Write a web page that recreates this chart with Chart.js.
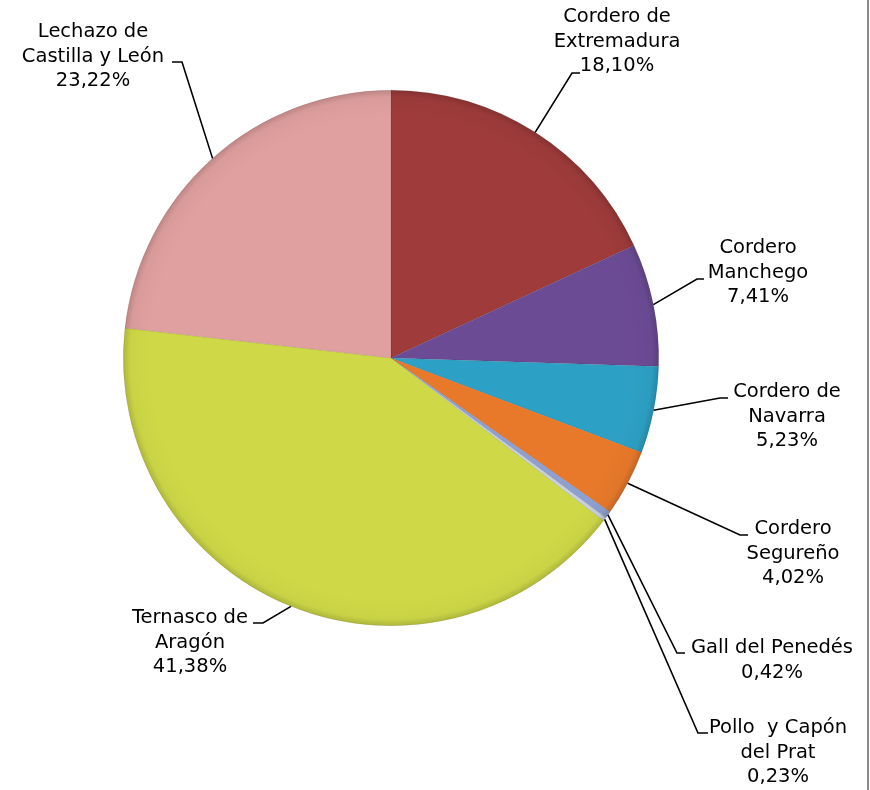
<!DOCTYPE html>
<html>
<head>
<meta charset="utf-8">
<script src="https://cdn.jsdelivr.net/npm/chart.js@4"></script>
<style>
  html, body { margin: 0; padding: 0; background: #ffffff; }
  #wrap { width: 870px; height: 790px; position: relative; }
</style>
</head>
<body>
<div id="wrap"><canvas id="c" width="870" height="790"></canvas></div>
<script>
// ---- data ----
const categories = [
  'Cordero de Extremadura', 'Cordero Manchego', 'Cordero de Navarra', 'Cordero Segureño',
  'Gall del Penedés', 'Pollo y Capón del Prat', 'Ternasco de Aragón', 'Lechazo de Castilla y León'
];
const shares = [18.10, 7.41, 5.23, 4.02, 0.42, 0.23, 41.38, 23.22];
const labelLines = [
  ['Cordero de', 'Extremadura'],
  ['Cordero', 'Manchego'],
  ['Cordero de', 'Navarra'],
  ['Cordero', 'Segureño'],
  ['Gall del Penedés'],
  ['Pollo  y Capón', 'del Prat'],
  ['Ternasco de', 'Aragón'],
  ['Lechazo de', 'Castilla y León']
];

// ---- styles / layout ----
const sliceColors = ['#9F3B3B', '#6C4B95', '#2DA1C5', '#E8792B', '#8FA0CF', '#C9CFDF', '#CFD947', '#E0A09F'];
const labelLayout = [
  { cx: 617, y: 17, elbow: [572, 73], end: [580, 73] },
  { cx: 758, y: 248, elbow: [697, 279], end: [704, 279] },
  { cx: 787, y: 392, elbow: [720, 398], end: [728, 398] },
  { cx: 793, y: 529, elbow: [740, 535], end: [748, 535] },
  { cx: 772, y: 648, elbow: [677, 653], end: [685, 653] },
  { cx: 778, y: 728, elbow: [698, 733], end: [708, 733] },
  { cx: 190, y: 618, elbow: [263, 623], end: [253, 623] },
  { cx: 93,  y: 32,  elbow: [182, 62], end: [172, 62] }
];
const LINE_H = 24.5;
const FONT = '19.5px "DejaVu Sans", Verdana, sans-serif';

const fmtPct = v => v.toFixed(2).replace('.', ',') + '%';

const labelPlugin = {
  id: 'leaderLabels',
  afterDatasetsDraw(chart) {
    const ctx = chart.ctx;
    const meta = chart.getDatasetMeta(0);
    ctx.save();
    // soft bevel shading at rim
    const a0 = meta.data[0].getProps(['x', 'y', 'outerRadius'], true);
    const g = ctx.createRadialGradient(a0.x, a0.y, a0.outerRadius * 0.9, a0.x, a0.y, a0.outerRadius);
    g.addColorStop(0, 'rgba(0,0,0,0)');
    g.addColorStop(0.75, 'rgba(0,0,0,0.03)');
    g.addColorStop(1, 'rgba(0,0,0,0.16)');
    ctx.fillStyle = g;
    ctx.beginPath();
    ctx.arc(a0.x, a0.y, a0.outerRadius, 0, Math.PI * 2);
    ctx.fill();

    meta.data.forEach((arc, i) => {
      const p = arc.getProps(['x', 'y', 'startAngle', 'endAngle', 'outerRadius'], true);
      const mid = (p.startAngle + p.endAngle) / 2;
      const ax = p.x + Math.cos(mid) * p.outerRadius;
      const ay = p.y + Math.sin(mid) * p.outerRadius;
      const L = labelLayout[i];
      ctx.strokeStyle = '#000';
      ctx.lineWidth = 1.6;
      ctx.beginPath();
      ctx.moveTo(ax, ay);
      ctx.lineTo(L.elbow[0], L.elbow[1]);
      ctx.lineTo(L.end[0], L.end[1]);
      ctx.stroke();
      const lines = labelLines[i].concat([fmtPct(shares[i])]);
      ctx.fillStyle = '#000';
      ctx.font = FONT;
      ctx.textAlign = 'center';
      ctx.textBaseline = 'middle';
      lines.forEach((t, k) => ctx.fillText(t, L.cx, L.y + k * LINE_H));
    });
    // right frame edge
    ctx.strokeStyle = '#8a8a8a';
    ctx.lineWidth = 2;
    ctx.beginPath();
    ctx.moveTo(868, 0);
    ctx.lineTo(868, 790);
    ctx.stroke();
    ctx.restore();
  }
};

new Chart(document.getElementById('c'), {
  type: 'pie',
  data: {
    labels: categories,
    datasets: [{
      data: shares,
      backgroundColor: sliceColors,
      borderColor: 'rgba(0,0,0,0.15)',
      borderWidth: 0.5
    }]
  },
  options: {
    responsive: false,
    animation: false,
    layout: { padding: { left: 123, right: 211, top: 90, bottom: 164 } },
    plugins: {
      legend: { display: false },
      tooltip: { enabled: false }
    }
  },
  plugins: [labelPlugin]
});
</script>
</body>
</html>
